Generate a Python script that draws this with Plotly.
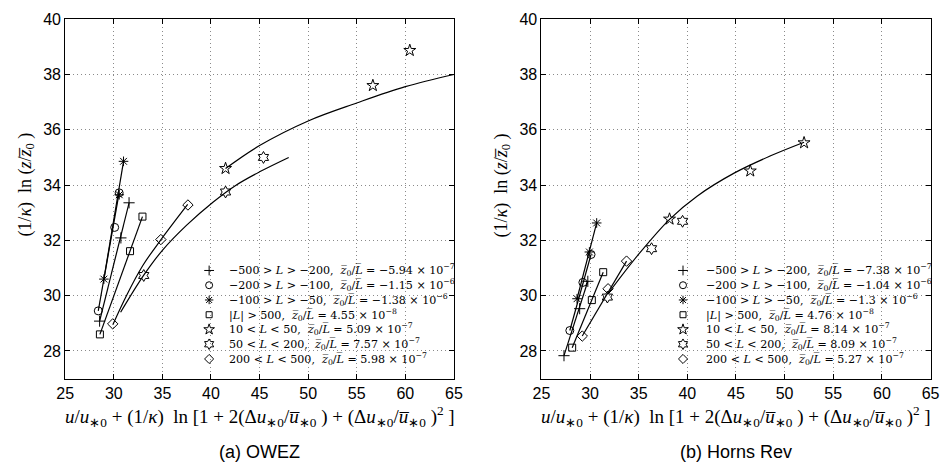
import math
import plotly.graph_objects as go

# ---- stability classes (shared by both sites) ----
CLASS_LABELS = [
    "−500 &gt; <i>L</i> &gt; −200",
    "−200 &gt; <i>L</i> &gt; −100",
    "−100 &gt; <i>L</i> &gt; −50",
    "|<i>L</i>| &gt; 500",
    "10 &lt; <i>L</i> &lt; 50",
    "50 &lt; <i>L</i> &lt; 200",
    "200 &lt; <i>L</i> &lt; 500",
]
CLASS_SYMBOLS = ["cross-thin-open", "circle-open", "asterisk-open", "square-open",
                 "star-open", "hexagram-open", "diamond-open"]
CLASS_SIZES = [8, 8, 8, 7, 9, 9, 8]

# ---- OWEZ ----
OWEZ_Z0_OVER_L = [-5.94e-7, -1.15e-6, -1.38e-6, 4.55e-8, 5.09e-7, 7.57e-7, 5.98e-7]
OWEZ_PLUS_X = [28.54, 30.73, 31.57]
OWEZ_PLUS_Y = [29.08, 32.09, 33.36]
OWEZ_CIRCLE_X = [28.40, 30.09, 30.55]
OWEZ_CIRCLE_Y = [29.45, 32.47, 33.72]
OWEZ_ASTER_X = [28.98, 30.56, 31.00]
OWEZ_ASTER_Y = [30.60, 33.65, 34.86]
OWEZ_SQUARE_X = [28.57, 31.67, 32.95]
OWEZ_SQUARE_Y = [28.60, 31.61, 32.86]
OWEZ_STAR_X = [41.50, 56.66, 60.46]
OWEZ_STAR_Y = [34.60, 37.60, 38.87]
OWEZ_HEXA_X = [33.08, 41.50, 45.40]
OWEZ_HEXA_Y = [30.73, 33.75, 35.00]
OWEZ_DIAMOND_X = [29.89, 34.84, 37.63]
OWEZ_DIAMOND_Y = [28.98, 32.03, 33.28]
# fitted profiles for the stable classes
OWEZ_STAR_FIT_X = [41.5, 45.0, 50.0, 55.0, 60.0, 65.0]
OWEZ_STAR_FIT_Y = [34.60, 35.43, 36.32, 36.97, 37.56, 38.00]
OWEZ_HEXA_FIT_X = [30.7, 33.1, 35.0, 37.5, 40.2, 42.5, 45.0, 48.0]
OWEZ_HEXA_FIT_Y = [29.40, 30.75, 31.64, 32.55, 33.38, 33.98, 34.48, 35.00]
OWEZ_DIAMOND_FIT_X = [29.9, 31.3, 33.0, 34.8, 37.6]
OWEZ_DIAMOND_FIT_Y = [28.95, 30.00, 31.10, 32.00, 33.30]

# ---- Horns Rev ----
HR_Z0_OVER_L = [-7.38e-7, -1.04e-6, -1.3e-6, 4.76e-8, 8.14e-7, 8.09e-7, 5.27e-7]
HR_PLUS_X = [27.32, 28.93, 29.77]
HR_PLUS_Y = [27.83, 29.53, 30.52]
HR_CIRCLE_X = [27.92, 29.26, 30.10]
HR_CIRCLE_Y = [28.74, 30.48, 31.49]
HR_ASTER_X = [28.66, 29.93, 30.68]
HR_ASTER_Y = [29.89, 31.58, 32.63]
HR_SQUARE_X = [28.16, 30.18, 31.35]
HR_SQUARE_Y = [28.12, 29.84, 30.85]
HR_STAR_X = [38.17, 46.47, 52.00]
HR_STAR_Y = [32.77, 34.51, 35.53]
HR_HEXA_X = [31.78, 36.32, 39.51]
HR_HEXA_Y = [29.95, 31.70, 32.69]
HR_DIAMOND_X = [29.20, 31.85, 33.75]
HR_DIAMOND_Y = [28.54, 30.25, 31.25]
HR_STAR_FIT_X = [31.8, 35.0, 38.2, 41.0, 44.9, 48.5, 52.0]
HR_STAR_FIT_Y = [30.05, 31.50, 32.77, 33.60, 34.45, 35.05, 35.55]

X_TICKS = [25, 30, 35, 40, 45, 50, 55, 60, 65]
Y_TICKS = [28, 30, 32, 34, 36, 38, 40]

W, H = 951, 473
SERIF = "Liberation Serif"
KEY_SERIF = "DejaVu Serif"
SANS = "Liberation Sans"

fig = go.Figure()


def add_panel(xa, ya, points, straight_idx, curves):
    # straight fitted lines for the unstable / neutral classes
    for i in straight_idx:
        xs, ys = points[i]
        fig.add_trace(go.Scatter(x=[xs[0], xs[-1]], y=[ys[0], ys[-1]], mode="lines",
                                 line=dict(color="black", width=1.2),
                                 xaxis=xa, yaxis=ya, showlegend=False, hoverinfo="skip"))
    for cx, cy in curves:
        fig.add_trace(go.Scatter(x=cx, y=cy, mode="lines",
                                 line=dict(color="black", width=1.2, shape="spline", smoothing=1.0),
                                 xaxis=xa, yaxis=ya, showlegend=False, hoverinfo="skip"))
    for i, (xs, ys) in enumerate(points):
        fig.add_trace(go.Scatter(x=xs, y=ys, mode="markers",
                                 marker=dict(symbol=CLASS_SYMBOLS[i], size=CLASS_SIZES[i],
                                             color="black", line=dict(color="black", width=1)),
                                 xaxis=xa, yaxis=ya, showlegend=False))


owez_points = [(OWEZ_PLUS_X, OWEZ_PLUS_Y), (OWEZ_CIRCLE_X, OWEZ_CIRCLE_Y),
               (OWEZ_ASTER_X, OWEZ_ASTER_Y), (OWEZ_SQUARE_X, OWEZ_SQUARE_Y),
               (OWEZ_STAR_X, OWEZ_STAR_Y), (OWEZ_HEXA_X, OWEZ_HEXA_Y),
               (OWEZ_DIAMOND_X, OWEZ_DIAMOND_Y)]
hr_points = [(HR_PLUS_X, HR_PLUS_Y), (HR_CIRCLE_X, HR_CIRCLE_Y),
             (HR_ASTER_X, HR_ASTER_Y), (HR_SQUARE_X, HR_SQUARE_Y),
             (HR_STAR_X, HR_STAR_Y), (HR_HEXA_X, HR_HEXA_Y),
             (HR_DIAMOND_X, HR_DIAMOND_Y)]

add_panel("x", "y", owez_points, [0, 1, 2, 3],
          [(OWEZ_STAR_FIT_X, OWEZ_STAR_FIT_Y), (OWEZ_HEXA_FIT_X, OWEZ_HEXA_FIT_Y),
           (OWEZ_DIAMOND_FIT_X, OWEZ_DIAMOND_FIT_Y)])
add_panel("x2", "y2", hr_points, [0, 1, 2, 3, 6],
          [(HR_STAR_FIT_X, HR_STAR_FIT_Y)])


def ratio_text(v):
    e = math.floor(math.log10(abs(v)))
    m = v / 10 ** e
    ms = f"{m:g}".replace("-", "−")
    return (f"<i>z̅</i><sub>0</sub>/<i>L̅</i> = {ms} × 10<sup>−{abs(e)}</sup>")


# key boxes drawn on a full-page pixel axis (x3/y3)
ROW0, ROW_STEP = 267, 15
annotations = []
for key_x, text_x, ratios in [(204, 222, OWEZ_Z0_OVER_L), (687, 708, HR_Z0_OVER_L)]:
    for i in range(len(CLASS_LABELS)):
        row_y = ROW0 + ROW_STEP * i
        fig.add_trace(go.Scatter(x=[key_x], y=[row_y], mode="markers",
                                 marker=dict(symbol=CLASS_SYMBOLS[i], size=CLASS_SIZES[i] - 1,
                                             color="black", line=dict(color="black", width=1)),
                                 xaxis="x3", yaxis="y3", showlegend=False, hoverinfo="skip"))
        annotations.append(dict(x=text_x, y=row_y, xref="x3", yref="y3",
                                text=f"{CLASS_LABELS[i]},  {ratio_text(ratios[i])}",
                                showarrow=False, xanchor="left", yanchor="middle",
                                font=dict(family=KEY_SERIF, size=11.1, color="black")))

X_TITLE = ("<i>u</i>/<i>u</i><sub>∗0</sub> + (1/<i>κ</i>)  ln [1 + 2(Δ<i>u</i><sub>∗0</sub>/"
           "<i>u̅</i><sub>∗0</sub> ) + (Δ<i>u</i><sub>∗0</sub>/<i>u̅</i><sub>∗0</sub> )<sup>2</sup> ]")
Y_TITLE = "(1/<i>κ</i>)  ln (<i>z</i>/<i>z̅</i><sub>0</sub> )"

for cx, lx, cap in [(255.4, 18, "(a) OWEZ"), (741.0, 503, "(b) Horns Rev")]:
    annotations.append(dict(x=cx, y=416, xref="x3", yref="y3", text=X_TITLE, showarrow=False,
                            xanchor="center", yanchor="middle",
                            font=dict(family=SERIF, size=19, color="black")))
    annotations.append(dict(x=lx, y=180, xref="x3", yref="y3", text=Y_TITLE, showarrow=False,
                            textangle=-90, xanchor="center", yanchor="middle",
                            font=dict(family=SERIF, size=18, color="black")))
    annotations.append(dict(x=cx, y=452, xref="x3", yref="y3", text=cap, showarrow=False,
                            xanchor="center", yanchor="middle",
                            font=dict(family=SANS, size=18, color="black")))

axis_common = dict(showline=True, linecolor="black", linewidth=1, mirror="ticks",
                   ticks="inside", ticklen=5, tickcolor="black",
                   showgrid=True, gridcolor="#8a8a8a", griddash="1px,3px", gridwidth=1,
                   zeroline=False, tickfont=dict(family=SANS, size=16, color="black"))

y_dom = [(H - 377) / H, (H - 11.4) / H]
fig.update_layout(
    width=W, height=H,
    margin=dict(l=0, r=0, t=0, b=0),
    paper_bgcolor="white", plot_bgcolor="rgba(0,0,0,0)",
    showlegend=False,
    xaxis=dict(domain=[57.3 / W, 453.5 / W], range=[25, 65], tickvals=X_TICKS, anchor="y", **axis_common),
    yaxis=dict(domain=y_dom, range=[27, 40], tickvals=Y_TICKS, anchor="x", **axis_common),
    xaxis2=dict(domain=[542.7 / W, 939.3 / W], range=[25, 65], tickvals=X_TICKS, anchor="y2", **axis_common),
    yaxis2=dict(domain=y_dom, range=[27, 40], tickvals=Y_TICKS, anchor="x2", **axis_common),
    xaxis3=dict(domain=[0, 1], range=[0, W], visible=False, anchor="y3", fixedrange=True),
    yaxis3=dict(domain=[0, 1], range=[H, 0], visible=False, anchor="x3", fixedrange=True),
    annotations=annotations,
)

fig.write_html("out.html")
